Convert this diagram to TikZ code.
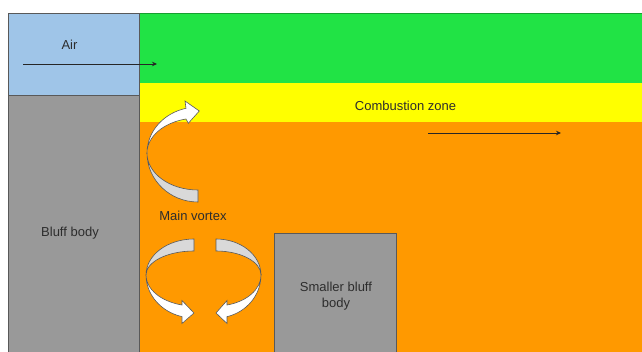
\documentclass[tikz,border=0pt]{standalone}
\usepackage{fontspec}
\setmainfont{Liberation Sans}
\usetikzlibrary{arrows.meta}
\definecolor{airblue}{RGB}{159,197,232}
\definecolor{zonegreen}{RGB}{33,227,69}
\definecolor{zoneyellow}{RGB}{255,255,0}
\definecolor{zoneorange}{RGB}{255,153,0}
\definecolor{bodygray}{RGB}{153,153,153}
\definecolor{edgegray}{RGB}{89,89,89}
\definecolor{txt}{RGB}{45,45,45}
\definecolor{ribbon}{RGB}{217,217,217}
\tikzset{
  boxline/.style={draw=edgegray, line width=0.8pt},
  lbl/.style={text=txt, inner sep=0pt, align=center, font=\fontsize{13}{16.5}\selectfont},
  flow/.style={draw=black!85, line width=0.8pt, -{Stealth[length=5pt,width=4.5pt]}},
  backface/.style={fill=ribbon, draw=edgegray, line width=0.6pt},
  frontface/.style={fill=white, draw=edgegray, line width=0.6pt}
}
\begin{document}
\begin{tikzpicture}[x=1pt,y=-1pt]
\useasboundingbox (0,0) rectangle (642,352);
\fill[white] (0,0) rectangle (642,352);
% zones
\fill[zonegreen] (139,13) rectangle (650,83);
\draw[zonegreen!70!black, line width=0.8pt] (139,13) -- (650,13);
\fill[zoneyellow] (139,83) rectangle (650,122);
\fill[zoneorange] (139,122) rectangle (650,360);
% bodies
\draw[boxline, fill=airblue] (8,13) rectangle (139,95);
\draw[boxline, fill=bodygray] (8,95) rectangle (139,360);
\draw[boxline, fill=bodygray] (274,233) rectangle (396,360);
% labels
\node[lbl] (air) at (69.5,45) {Air};
\node[lbl] (comb) at (405.5,106) {Combustion zone};
\node[lbl] (vortex) at (193,216) {Main vortex};
\node[lbl] (bluff) at (70,233) {Bluff body};
\node[lbl] (small) at (336,296) {Smaller bluff\\body};
% flow arrows
\coordinate (airS) at (23,64);
\coordinate (airE) at (157,64);
\draw[flow] (airS) -- (airE);
\coordinate (combS) at (428,133);
\coordinate (combE) at (561,133);
\draw[flow] (combS) -- (combE);
% main vortex curved arrow (top)
\path[backface] (198,202) arc[start angle=90, end angle=180, x radius=51, y radius=49]
  arc[start angle=180, end angle=90, x radius=51, y radius=37] -- cycle;
\path[frontface] (147,153) arc[start angle=180, end angle=256.4, x radius=51, y radius=46]
  -- (185,101) -- (199.3,111) -- (188.3,123.3) -- (186,119)
  arc[start angle=256.4, end angle=180, x radius=51, y radius=35] -- cycle;
% lower left curved arrow
\path[backface] (194,239) arc[start angle=270, end angle=180, x radius=48, y radius=36]
  arc[start angle=180, end angle=270, x radius=48, y radius=24] -- cycle;
\path[frontface] (146,275) arc[start angle=180, end angle=104.5, x radius=48, y radius=43]
  -- (182,323.5) -- (194,313) -- (182,300.5) -- (182,305)
  arc[start angle=104.5, end angle=180, x radius=48, y radius=31] -- cycle;
% lower right curved arrow
\path[backface] (216,239) arc[start angle=270, end angle=360, x radius=45, y radius=36]
  arc[start angle=0, end angle=-90, x radius=45, y radius=24] -- cycle;
\path[frontface] (261,275) arc[start angle=0, end angle=75.9, x radius=45, y radius=43]
  -- (227,323.5) -- (216,313) -- (227,300.5) -- (227,305)
  arc[start angle=75.9, end angle=0, x radius=45, y radius=31] -- cycle;
\end{tikzpicture}
\end{document}
